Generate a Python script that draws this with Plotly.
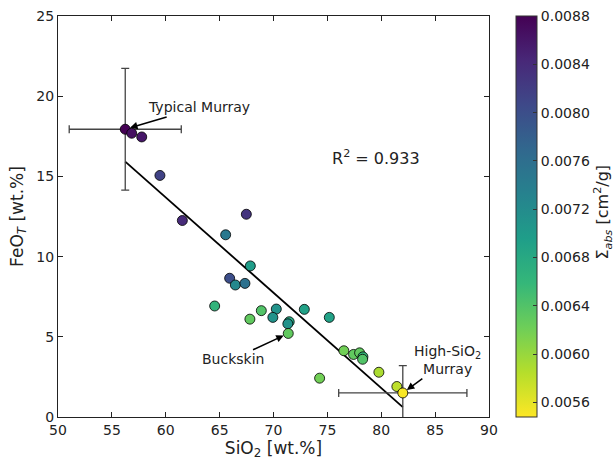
import numpy as np
import plotly.graph_objects as go

# ---- data ----
sio2 = [56.24, 56.84, 57.77, 59.46, 61.54, 65.56, 67.48, 67.85, 65.93, 66.46,
        67.35, 64.54, 68.87, 67.81, 70.26, 69.94, 72.86, 71.46, 71.33, 71.37,
        75.18, 74.28, 76.53, 77.43, 77.99, 78.30, 78.27, 79.78, 81.45, 82.00]
feo = [17.94, 17.69, 17.46, 15.06, 12.25, 11.36, 12.64, 9.42, 8.65, 8.23,
       8.33, 6.92, 6.63, 6.10, 6.73, 6.21, 6.71, 5.94, 5.81, 5.21,
       6.21, 2.42, 4.13, 3.90, 4.00, 3.75, 3.60, 2.79, 1.90, 1.50]
sigma_abs = [0.0088, 0.00867, 0.0086, 0.00814, 0.0084, 0.00747, 0.0083, 0.00697, 0.0080, 0.00724,
             0.00757, 0.00664, 0.0064, 0.0063, 0.0071, 0.0071, 0.00691, 0.0068, 0.0071, 0.0063,
             0.0069, 0.0062, 0.0062, 0.0063, 0.0063, 0.0066, 0.0064, 0.0059, 0.00581, 0.0055]

# endmembers with error bars (Typical Murray, High-SiO2 Murray)
end_idx = [0, 29]
end_err_x = [5.2, 5.95]
end_err_y = [3.8, 1.7]

# regression line
fit_slope = -0.5945
fit_intercept = 49.36
r2_text = "R<sup>2</sup> = 0.933"

cb_ticks = [0.0056, 0.0060, 0.0064, 0.0068, 0.0072, 0.0076, 0.0080, 0.0084, 0.0088]
cmin, cmax = 0.00548, 0.0088

FONT = "DejaVu Sans"
W, H = 615, 461
L, R, T, B = 58, 126, 16, 44
PW = W - L - R

fig = go.Figure()

# regression line
xfit = np.array([min(sio2), max(sio2)])
yfit = fit_intercept + fit_slope * xfit
fig.add_trace(go.Scatter(x=xfit, y=yfit, mode="lines",
                         line=dict(color="black", width=1.8),
                         showlegend=False, hoverinfo="skip"))

# error bars
fig.add_trace(go.Scatter(
    x=[sio2[i] for i in end_idx], y=[feo[i] for i in end_idx], mode="markers",
    marker=dict(size=1, color="rgba(0,0,0,0)"),
    error_x=dict(type="data", array=end_err_x, color="#444444", thickness=1.3, width=4),
    error_y=dict(type="data", array=end_err_y, color="#444444", thickness=1.3, width=4),
    showlegend=False, hoverinfo="skip"))

# scatter points
fig.add_trace(go.Scatter(
    x=sio2, y=feo, mode="markers",
    marker=dict(size=10, color=sigma_abs, colorscale="Viridis", reversescale=True,
                cmin=cmin, cmax=cmax,
                line=dict(color="black", width=0.8),
                colorbar=dict(
                    x=(516 - L) / PW, xanchor="left", xref="paper", xpad=0, ypad=0,
                    y=0.5, yanchor="middle", len=1.0, lenmode="fraction",
                    thickness=21, thicknessmode="pixels",
                    outlinewidth=1, outlinecolor="#333333",
                    tickvals=cb_ticks, ticktext=[f"{v:.4f}" for v in cb_ticks],
                    ticks="inside", ticklen=4, tickcolor="#333333",
                    ticklabeloverflow="allow",
                    tickfont=dict(family=FONT, size=14, color="#222222"),
                )),
    showlegend=False))

axis_common = dict(showgrid=False, zeroline=False, showline=True, linecolor="#222222",
                   linewidth=1, mirror="allticks", ticks="inside", ticklen=5,
                   tickcolor="#222222", ticklabeloverflow="allow",
                   tickfont=dict(family=FONT, size=14, color="#222222"))

fig.update_xaxes(range=[50, 90], dtick=5, title=dict(text="SiO<sub>2</sub> [wt.%]",
                 font=dict(family=FONT, size=17, color="#222222"), standoff=0),
                 automargin=False, **axis_common)
fig.update_yaxes(range=[0, 25], dtick=5, title=dict(text="FeO<sub><i>T</i></sub> [wt.%]",
                 font=dict(family=FONT, size=17, color="#222222"), standoff=8),
                 automargin=False, **axis_common)

ann_font = dict(family=FONT, size=14, color="#222222")
annotations = [
    dict(x=sio2[0], y=feo[0], ax=63.05, ay=19.3, text="Typical Murray"),
    dict(x=sio2[19], y=feo[19], ax=66.2, ay=3.6, text="Buckskin"),
    dict(x=sio2[29], y=feo[29], ax=86.15, ay=3.55, text="High-SiO<sub>2</sub><br>Murray"),
]
for a in annotations:
    fig.add_annotation(xref="x", yref="y", axref="x", ayref="y", showarrow=True,
                       arrowhead=2, arrowsize=1, arrowwidth=1.5, arrowcolor="black",
                       standoff=5, font=ann_font, **a)

fig.add_annotation(x=79.5, y=16.2, xref="x", yref="y", text=r2_text, showarrow=False,
                   font=dict(family=FONT, size=16, color="#222222"))

fig.add_annotation(x=(603 - L) / PW, y=0.51, xref="paper", yref="paper",
                   xanchor="center", yanchor="middle",
                   text="Σ<sub><i>abs</i></sub> [cm<sup>2</sup>/g]", textangle=-90,
                   showarrow=False, font=dict(family=FONT, size=16, color="#222222"))

fig.update_layout(width=W, height=H,
                  margin=dict(l=L, r=R, t=T, b=B, autoexpand=False),
                  plot_bgcolor="white", paper_bgcolor="white",
                  font=dict(family=FONT))

# remove the browser's default 8px body margin so the figure sits at the page origin
fig.write_html("out.html", config={"displayModeBar": False},
               post_script="document.body.style.margin='0';document.body.style.overflow='hidden';")
